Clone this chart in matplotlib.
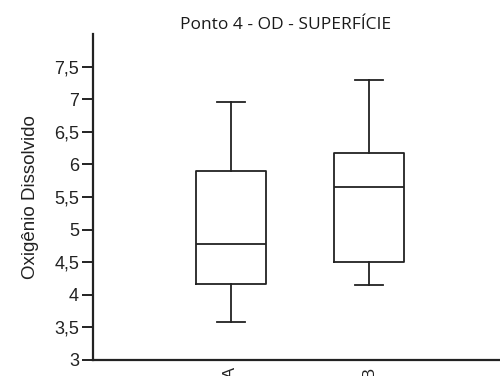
import matplotlib.pyplot as plt

# box statistics per group (whisker low, Q1, median, Q3, whisker high)
groups = ["A", "B"]
whis_lo = [3.58, 4.15]
q1 = [4.17, 4.51]
medians = [4.78, 5.66]
q3 = [5.90, 6.18]
whis_hi = [6.96, 7.30]

yticks = [3, 3.5, 4, 4.5, 5, 5.5, 6, 6.5, 7, 7.5]
ytick_labels = ["3", "3,5", "4", "4,5", "5", "5,5", "6", "6,5", "7", "7,5"]

stats = []
for i, g in enumerate(groups):
    stats.append({"label": g, "whislo": whis_lo[i], "q1": q1[i], "med": medians[i],
                  "q3": q3[i], "whishi": whis_hi[i], "fliers": []})

plt.rcParams['font.family'] = ['Liberation Sans', 'DejaVu Sans']

fig = plt.figure(figsize=(5, 3.76), dpi=100)
ax = fig.add_axes([0.186, 0.0426, 0.814, 0.867])

line = dict(color="#222222", linewidth=1.3)
ax.bxp(stats, positions=[1, 2], widths=0.507, capwidths=0.2, showfliers=False,
       boxprops=line, whiskerprops=line, capprops=line, medianprops=line)

ax.set_xlim(0, 2.95)
ax.set_ylim(3, 8)
ax.set_yticks(yticks)
ax.set_yticklabels(ytick_labels, fontsize=13)
ax.set_xticks([1, 2])
ax.set_xticklabels(groups, rotation=90, fontsize=12, va="top")
ax.tick_params(axis="y", length=8, width=1.4, pad=2, colors="#222222", labelcolor="#222222")
ax.tick_params(axis="x", length=0, pad=5, labelcolor="#222222")

for side in ["top", "right"]:
    ax.spines[side].set_visible(False)
for side in ["left", "bottom"]:
    ax.spines[side].set_linewidth(1.6)
    ax.spines[side].set_color("#222222")

ax.set_ylabel("Oxigênio Dissolvido", fontsize=13.5, labelpad=11, color="#222222")
fig.text(0.572, 0.934, "Ponto 4 - OD - SUPERFÍCIE", ha="center", va="center",
         fontsize=12.5, family=["Open Sans", "DejaVu Sans"], color="#1a1a1a")

fig.savefig("out.png", dpi=100)
